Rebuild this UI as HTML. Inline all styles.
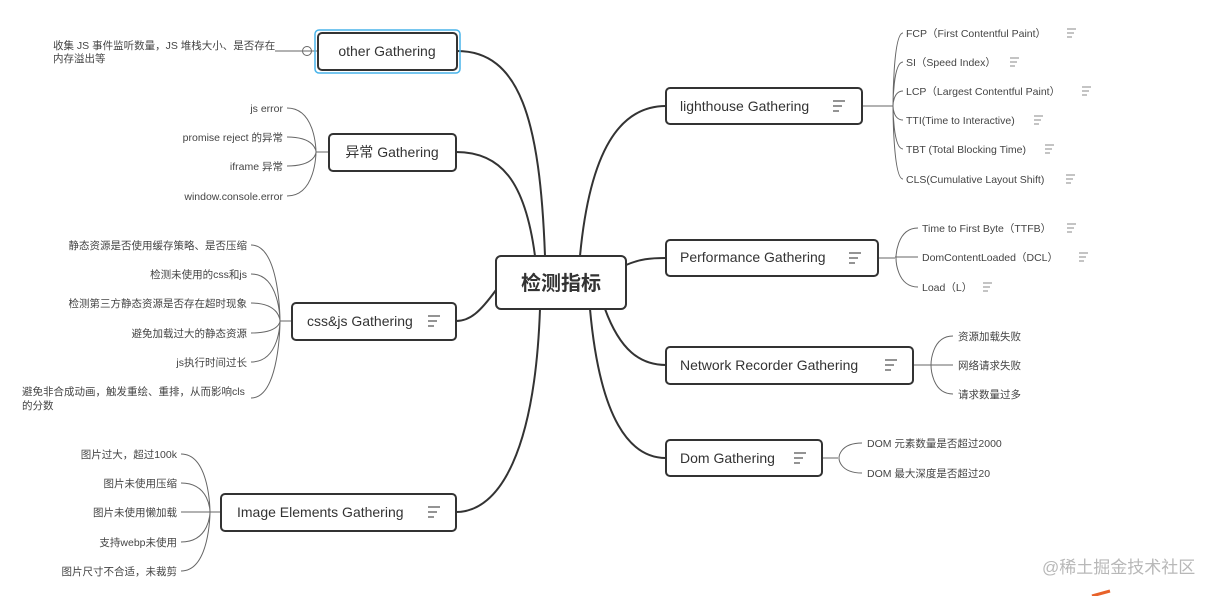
<!DOCTYPE html>
<html><head><meta charset="utf-8"><style>
body{margin:0;background:#fff;width:1221px;height:596px;overflow:hidden}
svg text{font-family:"Liberation Sans","Noto Sans CJK SC",sans-serif;fill:#333}
.n{font-size:14px}
.l{font-size:10.5px;fill:#444}
</style></head><body>
<svg width="1221" height="596" viewBox="0 0 1221 596">
<g fill="none" stroke="#333" stroke-width="2">
<path d="M545 256 C540 120 520 51 457 51"/>
<path d="M535 256 C525 180 500 152 456 152"/>
<path d="M496 290 C480 312 470 321 456 321"/>
<path d="M540 309 C535 450 500 512 456 512"/>
<path d="M580 256 C590 150 620 106 666 106"/>
<path d="M626 265 C640 259 650 258 666 258"/>
<path d="M605 309 C620 350 640 365 666 365"/>
<path d="M590 309 C600 420 630 458 666 458"/>
</g>
<g fill="none" stroke="#666" stroke-width="1">
<path d="M275 51 H302"/><circle cx="307" cy="51" r="4.5" fill="#fff"/><path d="M303 51 H311 M311 51 H318"/>
<path d="M329 152 H316"/>
<path d="M287 108 C316 108 316 152 316 152 M287 137 C316 137 316 152 316 152 M287 166 C316 166 316 152 316 152 M287 196 C316 196 316 152 316 152"/>
<path d="M292 321 H280"/>
<path d="M251 245 C280 245 280 321 280 321 M251 274 C280 274 280 321 280 321 M251 303 C280 303 280 321 280 321 M251 333 C280 333 280 321 280 321 M251 362 C280 362 280 321 280 321 M251 398 C280 398 280 321 280 321"/>
<path d="M221 512 H210"/>
<path d="M181 454 C210 454 210 512 210 512 M181 483 C210 483 210 512 210 512 M181 512 H210 M181 542 C210 542 210 512 210 512 M181 571 C210 571 210 512 210 512"/>
<path d="M862 106 H893"/>
<path d="M903 33 C893 33 893 106 893 106 M903 62 C893 62 893 106 893 106 M903 91 C893 91 893 106 893 106 M903 120 C893 120 893 106 893 106 M903 149 C893 149 893 106 893 106 M903 179 C893 179 893 106 893 106"/>
<path d="M878 258 H895"/>
<path d="M918 228 C896 228 896 258 896 258 M918 257 H895 M918 287 C896 287 896 258 896 258"/>
<path d="M913 365 H930"/>
<path d="M953 336 C931 336 931 365 931 365 M953 365 H930 M953 394 C931 394 931 365 931 365"/>
<path d="M822 458 H838"/>
<path d="M862 443 C839 443 839 458 839 458 M862 473 C839 473 839 458 839 458"/>
</g>
<rect x="315" y="30" width="145" height="43" rx="4" fill="none" stroke="#49b4ea" stroke-width="1.5"/>
<g fill="#fff" stroke="#333" stroke-width="2">
<rect x="496" y="256" width="130" height="53" rx="5"/>
<rect x="318" y="33" width="139" height="37" rx="4"/>
<rect x="329" y="134" width="127" height="37" rx="4"/>
<rect x="292" y="303" width="164" height="37" rx="4"/>
<rect x="221" y="494" width="235" height="37" rx="4"/>
<rect x="666" y="88" width="196" height="36" rx="4"/>
<rect x="666" y="240" width="212" height="36" rx="4"/>
<rect x="666" y="347" width="247" height="37" rx="4"/>
<rect x="666" y="440" width="156" height="36" rx="4"/>
</g>
<text x="561" y="290" text-anchor="middle" style="font-size:20px;font-weight:bold">检测指标</text>
<text class="n" x="387" y="56" text-anchor="middle">other Gathering</text>
<text class="n" x="392" y="157" text-anchor="middle">异常 Gathering</text>
<text class="n" x="307" y="326">css&amp;js Gathering</text>
<text class="n" x="237" y="517">Image Elements Gathering</text>
<text class="n" x="680" y="111">lighthouse Gathering</text>
<text class="n" x="680" y="262">Performance Gathering</text>
<text class="n" x="680" y="370">Network Recorder Gathering</text>
<text class="n" x="680" y="463">Dom Gathering</text>
<g stroke="#555" stroke-width="1.2">
<path d="M428 316h12M428 321h9M428 326h6"/>
<path d="M428 507h12M428 512h9M428 517h6"/>
<path d="M833 101h12M833 106h9M833 111h6"/>
<path d="M849 253h12M849 258h9M849 263h6"/>
<path d="M885 360h12M885 365h9M885 370h6"/>
<path d="M794 453h12M794 458h9M794 463h6"/>
</g>
<g stroke="#888" stroke-width="1">
<path d="M1067 29h9M1067 33h7M1067 37h5"/>
<path d="M1010 58h9M1010 62h7M1010 66h5"/>
<path d="M1082 87h9M1082 91h7M1082 95h5"/>
<path d="M1034 116h9M1034 120h7M1034 124h5"/>
<path d="M1045 145h9M1045 149h7M1045 153h5"/>
<path d="M1066 175h9M1066 179h7M1066 183h5"/>
<path d="M1067 224h9M1067 228h7M1067 232h5"/>
<path d="M1079 253h9M1079 257h7M1079 261h5"/>
<path d="M983 283h9M983 287h7M983 291h5"/>
</g>
<text class="l" x="53" y="49">收集 JS 事件监听数量，JS 堆栈大小、是否存在</text>
<text class="l" x="53" y="62">内存溢出等</text>
<g text-anchor="end" class="l">
<text class="l" x="283" y="112">js error</text>
<text class="l" x="283" y="141">promise reject 的异常</text>
<text class="l" x="283" y="170">iframe 异常</text>
<text class="l" x="283" y="200">window.console.error</text>
<text class="l" x="247" y="249">静态资源是否使用缓存策略、是否压缩</text>
<text class="l" x="247" y="278">检测未使用的css和js</text>
<text class="l" x="247" y="307">检测第三方静态资源是否存在超时现象</text>
<text class="l" x="247" y="337">避免加载过大的静态资源</text>
<text class="l" x="247" y="366">js执行时间过长</text>
<text class="l" x="177" y="458">图片过大，超过100k</text>
<text class="l" x="177" y="487">图片未使用压缩</text>
<text class="l" x="177" y="516">图片未使用懒加载</text>
<text class="l" x="177" y="546">支持webp未使用</text>
<text class="l" x="177" y="575">图片尺寸不合适，未裁剪</text>
</g>
<text class="l" x="22" y="395">避免非合成动画，触发重绘、重排，从而影响cls</text>
<text class="l" x="22" y="409">的分数</text>
<text class="l" x="906" y="37">FCP（First Contentful Paint）</text>
<text class="l" x="906" y="66">SI（Speed Index）</text>
<text class="l" x="906" y="95">LCP（Largest Contentful Paint）</text>
<text class="l" x="906" y="124">TTI(Time to Interactive)</text>
<text class="l" x="906" y="153">TBT (Total Blocking Time)</text>
<text class="l" x="906" y="183">CLS(Cumulative Layout Shift)</text>
<text class="l" x="922" y="232">Time to First Byte（TTFB）</text>
<text class="l" x="922" y="261">DomContentLoaded（DCL）</text>
<text class="l" x="922" y="291">Load（L）</text>
<text class="l" x="958" y="340">资源加载失败</text>
<text class="l" x="958" y="369">网络请求失败</text>
<text class="l" x="958" y="398">请求数量过多</text>
<text class="l" x="867" y="447">DOM 元素数量是否超过2000</text>
<text class="l" x="867" y="477">DOM 最大深度是否超过20</text>
<text x="1042" y="573" style="font-size:17px;fill:#b8b8b8">@稀土掘金技术社区</text>
<path d="M1092 596 L1110 591" stroke="#e8622a" stroke-width="3"/>
</svg>
</body></html>
